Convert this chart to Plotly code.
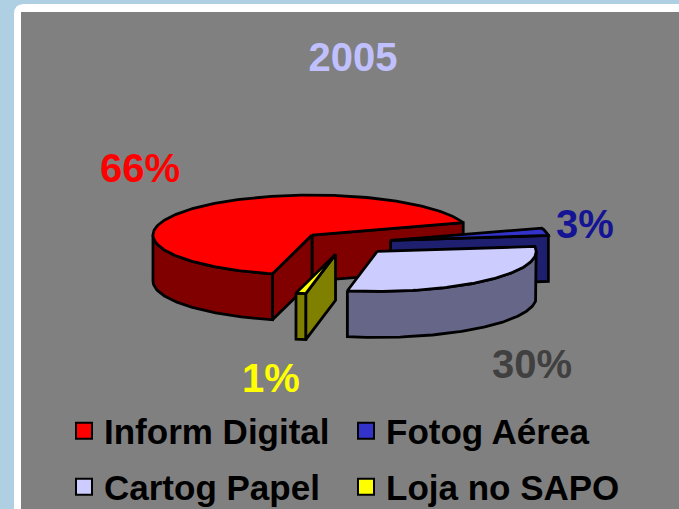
import numpy as np
import plotly.graph_objects as go

# ---- data ----
labels = ["Inform Digital", "Fotog Aérea", "Cartog Papel", "Loja no SAPO"]
values = [66, 3, 30, 1]
title_text = "2005"

# ---- styles ----
top_colors = ["#FF0000", "#3333CC", "#CCCCFF", "#FFFF00"]
side_colors = ["#800000", "#1F1F70", "#666688", "#808000"]
label_colors = ["#FF0000", "#141494", "#404040", "#FFFF00"]
label_pos = [(140, 168), (585, 224), (532, 364), (271, 378)]
legend_rows = [["Inform Digital", "Fotog Aérea"], ["Cartog Papel", "Loja no SAPO"]]

FONT = "Liberation Sans, Arial, sans-serif"
W, H = 679, 509
CX, CY = 345.6, 243.0
RX, RY = 159.0, 40.0
DEPTH = 46.0
EXPLODE = 0.29
START = 255.6
OUTLINE = dict(color="black", width=2.8)


def rim(ax, ay, th, dy=0.0):
    t = np.radians(th)
    return ax + RX * np.cos(t), ay - RY * np.sin(t) + dy


def poly(xs, ys, color):
    return go.Scatter(x=list(xs) + [xs[0]], y=list(ys) + [ys[0]], mode="lines",
                      fill="toself", fillcolor=color, line=OUTLINE,
                      hoverinfo="skip", showlegend=False)


total = float(sum(values))
slices = []
cum = 0.0
for i, v in enumerate(values):
    hi = START - cum / total * 360.0
    lo = hi - v / total * 360.0
    cum += v
    mid = np.radians((lo + hi) / 2)
    ax = CX + EXPLODE * RX * np.cos(mid)
    ay = CY - EXPLODE * RY * np.sin(mid)
    slices.append(dict(i=i, lo=lo, hi=hi, ax=ax, ay=ay))

fig = go.Figure()

for s in sorted(slices, key=lambda d: d["ay"]):
    i, lo, hi, ax, ay = s["i"], s["lo"], s["hi"], s["ax"], s["ay"]
    side = side_colors[i]
    # radial faces
    for th, vis in ((lo, np.cos(np.radians(lo)) > 0), (hi, np.cos(np.radians(hi)) < 0)):
        if vis:
            rx0, ry0 = rim(ax, ay, th)
            fig.add_trace(poly([ax, rx0, rx0, ax], [ay, ry0, ry0 + DEPTH, ay + DEPTH], side))
    # outer curved side
    for n in range(-2, 3):
        a = max(lo, 180 + 360 * n)
        b = min(hi, 360 + 360 * n)
        if b > a:
            th = np.linspace(a, b, max(3, int((b - a)) + 2))
            tx, ty = rim(ax, ay, th)
            bx, by = rim(ax, ay, th[::-1], DEPTH)
            fig.add_trace(poly(np.concatenate([tx, bx]), np.concatenate([ty, by]), side))
    # top face
    th = np.linspace(lo, hi, max(3, int(hi - lo) + 2))
    tx, ty = rim(ax, ay, th)
    fig.add_trace(poly(np.concatenate([[ax], tx]), np.concatenate([[ay], ty]), top_colors[i]))

# legend entries
for r, row in enumerate(legend_rows):
    for name in row:
        i = labels.index(name)
        fig.add_trace(go.Scatter(
            x=[None], y=[None], mode="markers", name=name,
            marker=dict(symbol="square", size=16, color=top_colors[i],
                        line=dict(color="black", width=2)),
            legend="legend" if r == 0 else "legend2", showlegend=True))

annotations = []
for i, v in enumerate(values):
    x, y = label_pos[i]
    annotations.append(dict(x=x, y=y, xref="x", yref="y", showarrow=False,
                            text=f"<b>{v / total:.0%}</b>",
                            font=dict(family=FONT, size=40, color=label_colors[i]),
                            xanchor="center", yanchor="middle"))

legend_common = dict(orientation="h", xanchor="left", yanchor="middle",
                     bgcolor="rgba(0,0,0,0)", entrywidth=237, entrywidthmode="pixels",
                     font=dict(family=FONT, size=35, color="black", weight="bold"),
                     traceorder="normal")

fig.update_layout(
    width=W, height=H, autosize=False,
    margin=dict(l=0, r=0, t=0, b=0, pad=0, autoexpand=False),
    paper_bgcolor="#AFCFE2", plot_bgcolor="rgba(0,0,0,0)",
    xaxis=dict(range=[0, W], visible=False, fixedrange=True),
    yaxis=dict(range=[H, 0], visible=False, fixedrange=True),
    title=dict(text=f"<b>{title_text}</b>", x=353 / W, y=1 - 57 / H,
               xanchor="center", yanchor="middle",
               font=dict(family=FONT, size=40, color="#C0C0FF")),
    shapes=[
        dict(type="path", xref="x", yref="y", layer="below",
             path=f"M 14,{H} L 14,14 Q 14,4 24,4 L {W},4 L {W},{H} Z",
             fillcolor="white", line=dict(width=0)),
        dict(type="rect", xref="x", yref="y", layer="below",
             x0=21, y0=12, x1=W, y1=H, fillcolor="#808080", line=dict(width=0)),
    ],
    annotations=annotations,
    legend=dict(x=64 / W, y=1 - 431 / H, **legend_common),
    legend2=dict(x=64 / W, y=1 - 487 / H, **legend_common),
)

fig.write_html(
    "out.html",
    config={"displayModeBar": False},
    post_script="document.body.style.margin='0';document.body.style.padding='0';"
                "document.body.style.overflow='hidden';",
)
